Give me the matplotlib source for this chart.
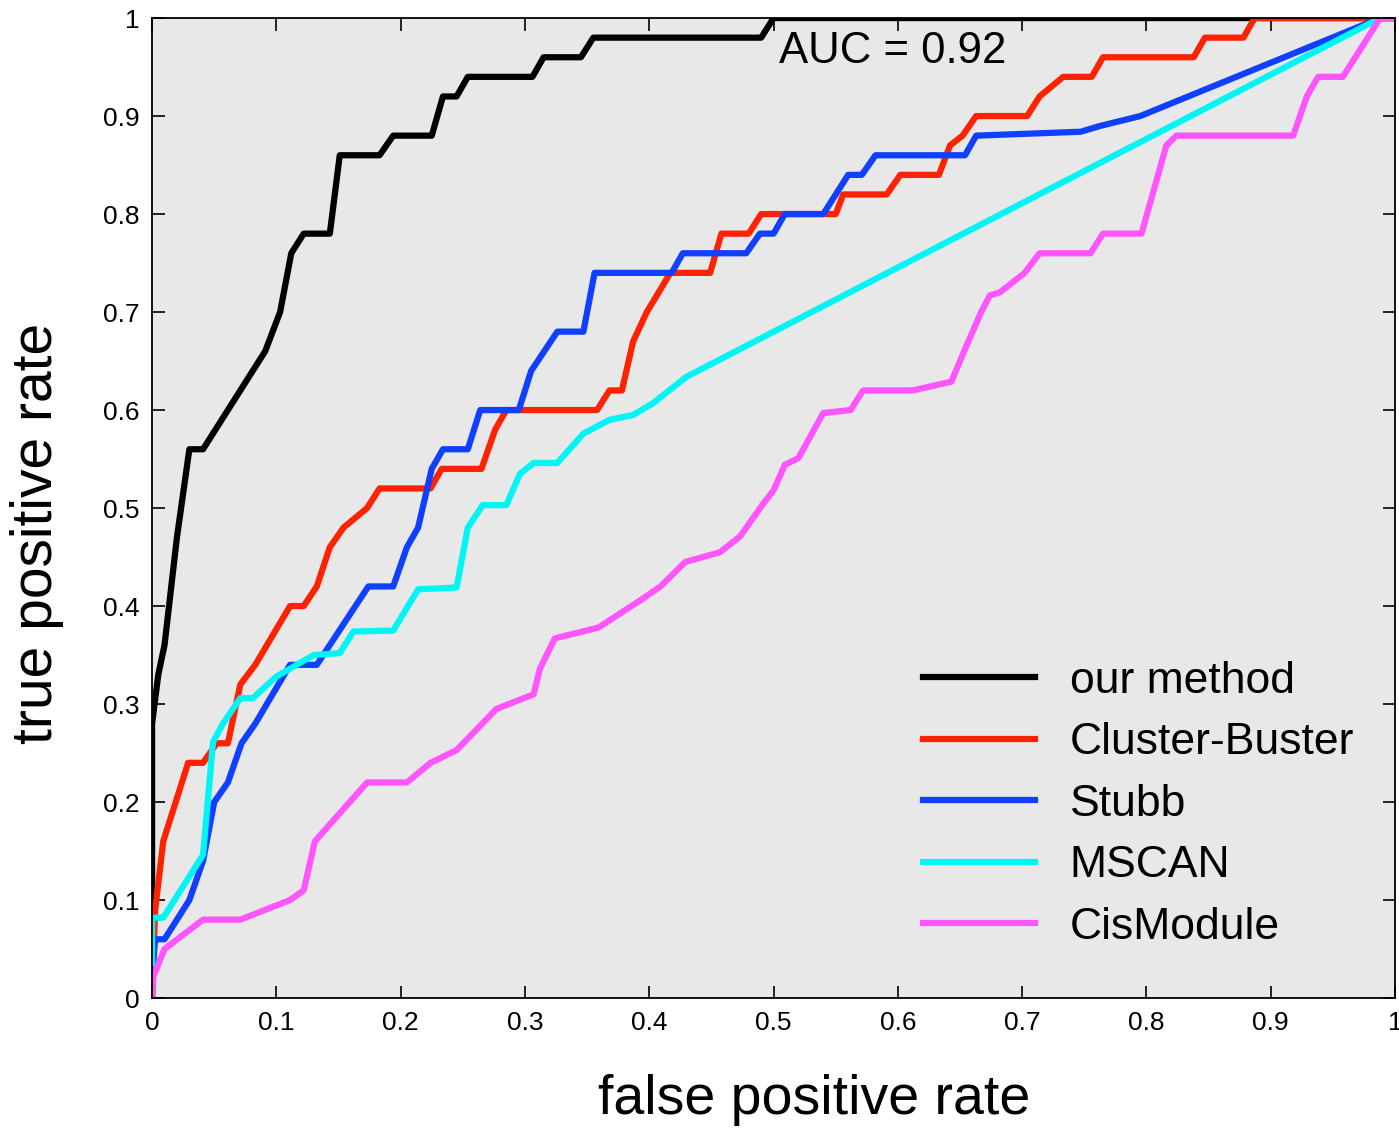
import numpy as np
import matplotlib.pyplot as plt

plt.rcParams['font.family'] = ['Liberation Sans', 'DejaVu Sans']

# ROC curves
ours_fpr = [0, 0, 0.005, 0.01, 0.02, 0.03, 0.041, 0.091, 0.103, 0.112, 0.122, 0.143, 0.151,
            0.183, 0.194, 0.225, 0.234, 0.245, 0.254, 0.306, 0.315, 0.345, 0.355, 0.49, 0.5, 1.0]
ours_tpr = [0, 0.28, 0.33, 0.36, 0.47, 0.56, 0.56, 0.66, 0.70, 0.76, 0.78, 0.78, 0.86,
            0.86, 0.88, 0.88, 0.92, 0.92, 0.94, 0.94, 0.96, 0.96, 0.98, 0.98, 1.0, 1.0]

cb_fpr = [0, 0.001, 0.0025, 0.009, 0.029, 0.041, 0.052, 0.061, 0.071, 0.083,
          0.111, 0.122, 0.1325, 0.143, 0.154, 0.173, 0.183, 0.224, 0.233, 0.265,
          0.276, 0.285, 0.358, 0.368, 0.378, 0.387, 0.398, 0.417, 0.449, 0.458,
          0.48, 0.49, 0.55, 0.556, 0.591, 0.602, 0.633, 0.642, 0.652, 0.663,
          0.704, 0.714, 0.733, 0.756, 0.765, 0.838, 0.847, 0.878, 0.887, 1.0]
cb_tpr = [0, 0.04, 0.09, 0.16, 0.24, 0.24, 0.26, 0.26, 0.32, 0.34,
          0.40, 0.40, 0.42, 0.46, 0.48, 0.50, 0.52, 0.52, 0.54, 0.54,
          0.58, 0.60, 0.60, 0.62, 0.62, 0.67, 0.70, 0.74, 0.74, 0.78,
          0.78, 0.80, 0.80, 0.82, 0.82, 0.84, 0.84, 0.87, 0.88, 0.90,
          0.90, 0.92, 0.94, 0.94, 0.96, 0.96, 0.98, 0.98, 1.0, 1.0]

stubb_fpr = [0, 0.0024, 0.01, 0.03, 0.041, 0.05, 0.061, 0.072, 0.083, 0.111,
             0.1325, 0.174, 0.194, 0.205, 0.214, 0.225, 0.234, 0.254, 0.264, 0.295,
             0.305, 0.326, 0.347, 0.356, 0.418, 0.427, 0.478, 0.489, 0.5, 0.509,
             0.54, 0.56, 0.571, 0.582, 0.654, 0.663, 0.747, 0.763, 0.795, 0.988, 1.0]
stubb_tpr = [0.02, 0.06, 0.06, 0.10, 0.14, 0.20, 0.22, 0.26, 0.28, 0.34,
             0.34, 0.42, 0.42, 0.46, 0.48, 0.54, 0.56, 0.56, 0.60, 0.60,
             0.64, 0.68, 0.68, 0.74, 0.74, 0.76, 0.76, 0.78, 0.78, 0.80,
             0.80, 0.84, 0.84, 0.86, 0.86, 0.88, 0.884, 0.89, 0.90, 1.0, 1.0]

mscan_fpr = [0, 0, 0.009, 0.041, 0.049, 0.057, 0.071, 0.081, 0.1, 0.13,
             0.151, 0.162, 0.194, 0.214, 0.245, 0.254, 0.266, 0.285, 0.296, 0.307,
             0.326, 0.347, 0.368, 0.387, 0.403, 0.43, 0.988, 1.0]
mscan_tpr = [0.035, 0.082, 0.082, 0.146, 0.261, 0.28, 0.306, 0.306, 0.328, 0.35,
             0.352, 0.374, 0.375, 0.417, 0.419, 0.48, 0.503, 0.503, 0.535, 0.546,
             0.546, 0.576, 0.59, 0.595, 0.607, 0.634, 1.0, 1.0]

cis_fpr = [0, 0.001, 0.01, 0.041, 0.071, 0.111, 0.122, 0.131, 0.173, 0.205,
           0.224, 0.245, 0.277, 0.307, 0.312, 0.324, 0.359, 0.393, 0.409, 0.429,
           0.457, 0.473, 0.492, 0.5, 0.509, 0.52, 0.54, 0.562, 0.572, 0.612,
           0.643, 0.655, 0.667, 0.674, 0.682, 0.702, 0.714, 0.755, 0.765, 0.796,
           0.816, 0.824, 0.918, 0.929, 0.938, 0.958, 0.988, 1.0]
cis_tpr = [0.003, 0.022, 0.05, 0.08, 0.08, 0.10, 0.11, 0.16, 0.22, 0.22,
           0.24, 0.253, 0.295, 0.31, 0.336, 0.367, 0.378, 0.406, 0.42, 0.445,
           0.455, 0.471, 0.505, 0.518, 0.544, 0.551, 0.597, 0.60, 0.62, 0.62,
           0.629, 0.665, 0.70, 0.717, 0.72, 0.74, 0.76, 0.76, 0.78, 0.78,
           0.87, 0.88, 0.88, 0.92, 0.94, 0.94, 1.0, 1.0]

labels = ['our method', 'Cluster-Buster', 'Stubb', 'MSCAN', 'CisModule']
colors = ['#000000', '#ff2200', '#1040ff', '#00f5f5', '#ff55ff']
curves = [(ours_fpr, ours_tpr), (cb_fpr, cb_tpr), (stubb_fpr, stubb_tpr),
          (mscan_fpr, mscan_tpr), (cis_fpr, cis_tpr)]

fig = plt.figure(figsize=(13.99, 11.28), dpi=100)
ax = fig.add_axes([0.1087, 0.1152, 0.8885, 0.8688])
ax.set_facecolor('#e8e8e8')

for (x, y), c, lab in zip(curves, colors, labels):
    ax.plot(x, y, color=c, lw=4.5, label=lab)

ax.set_xlim(0, 1)
ax.set_ylim(0, 1)
ticks = np.arange(0, 1.01, 0.1)
ax.set_xticks(ticks)
ax.set_yticks(ticks)
ax.set_xticklabels(['0'] + ['%.1f' % t for t in ticks[1:-1]] + ['1'])
ax.set_yticklabels(['0'] + ['%.1f' % t for t in ticks[1:-1]] + ['1'])
ax.tick_params(direction='in', length=9, width=1.2, top=True, right=True,
               labelsize=19, pad=9)
for s in ax.spines.values():
    s.set_linewidth(1.3)

ax.set_xlabel('false positive rate', fontsize=40, va='center')
ax.xaxis.set_label_coords(0.533, -0.104)
ax.set_ylabel('true positive rate', fontsize=41, va='center')
ax.yaxis.set_label_coords(-0.0925, 0.4745)

ax.text(0.504, 0.966, 'AUC = 0.92', fontsize=31.5, va='center', ha='left')

ax.legend(loc='upper left', bbox_to_anchor=(0.62, 0.344), frameon=False,
          fontsize=32, handlelength=2.52, handletextpad=0.79, labelspacing=0.46,
          borderpad=0, borderaxespad=0)

fig.savefig('out.png', dpi=100)
